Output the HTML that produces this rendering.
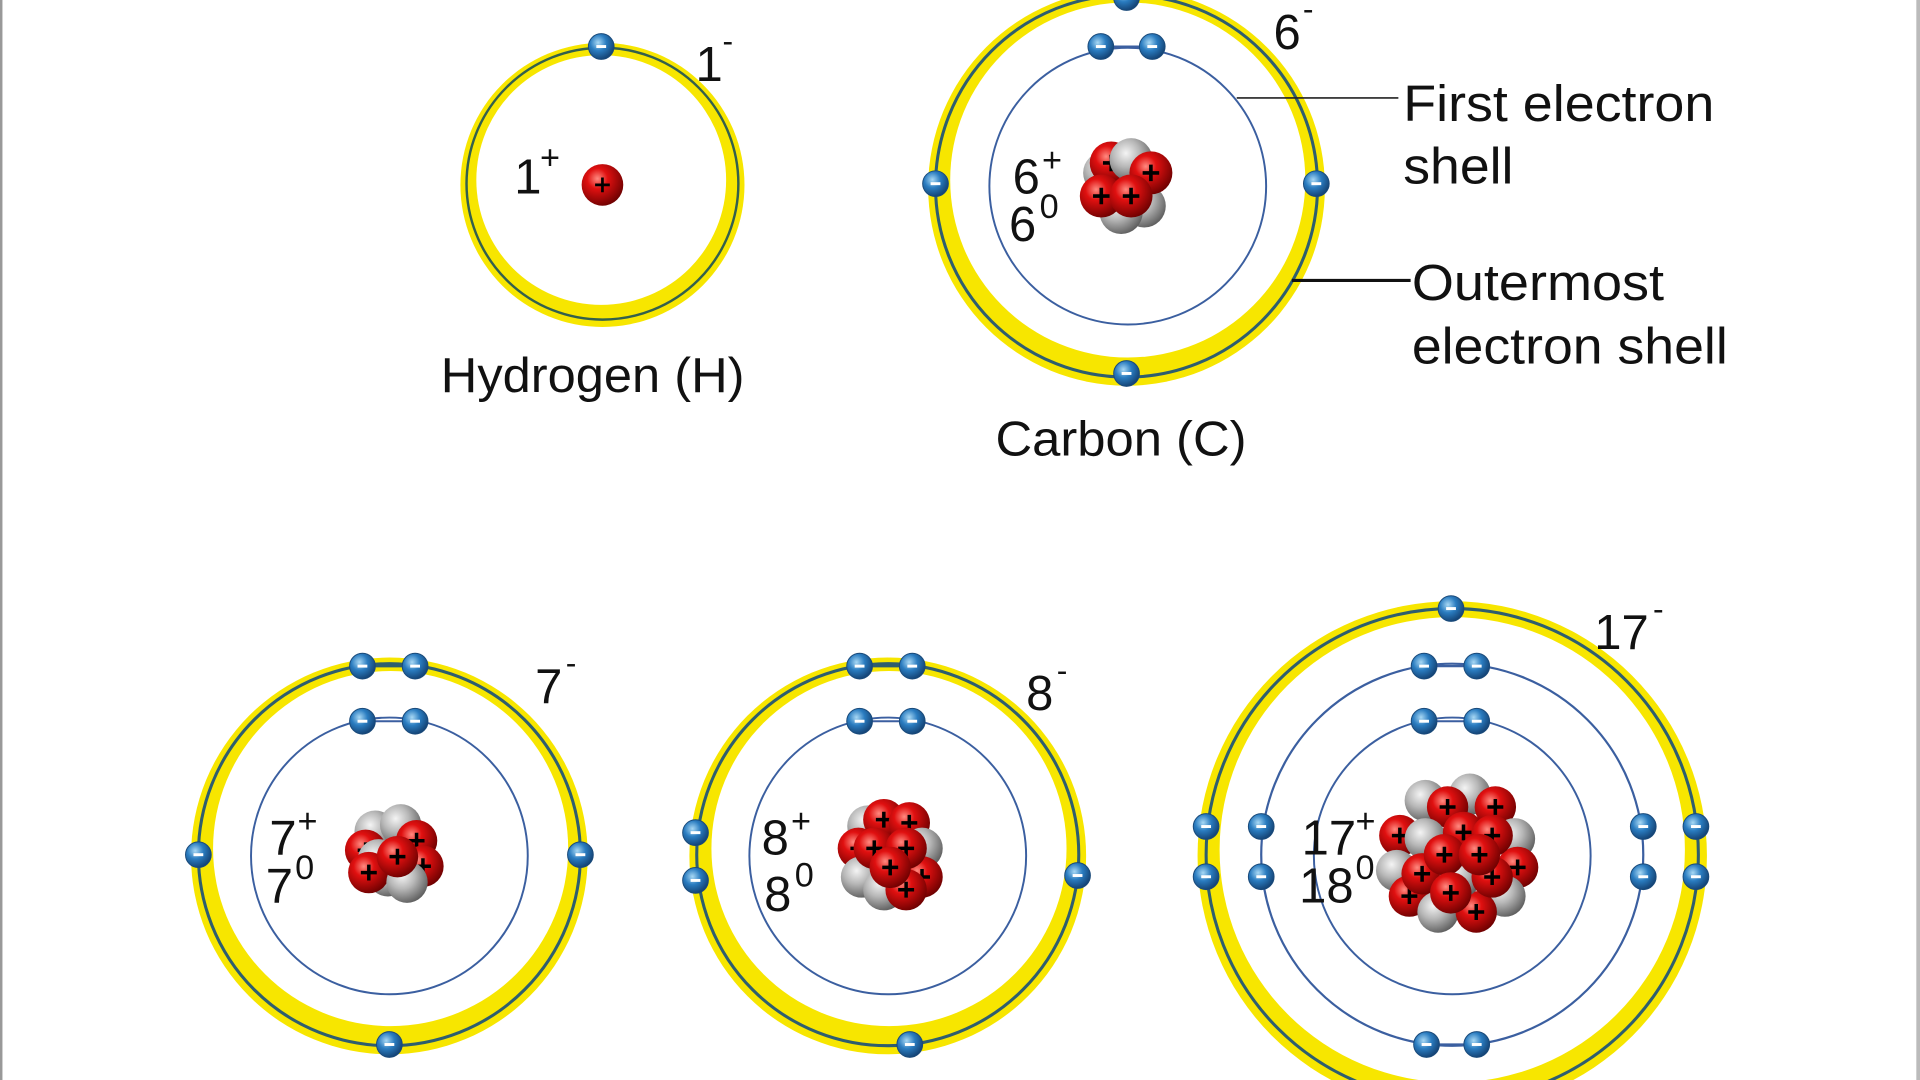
<!DOCTYPE html>
<html><head><meta charset="utf-8"><style>
html,body{margin:0;padding:0;background:#fff;}
svg{display:block;}
text{font-family:"Liberation Sans",sans-serif;fill:#111;}
</style></head><body>
<svg width="1920" height="1080" viewBox="0 0 1568 882" xmlns="http://www.w3.org/2000/svg">
<defs>
<radialGradient id="rg" cx="0.38" cy="0.35" r="0.7"><stop offset="0" stop-color="#ff8a80"/><stop offset="0.35" stop-color="#e01010"/><stop offset="1" stop-color="#6a0000"/></radialGradient>
<radialGradient id="gg" cx="0.38" cy="0.35" r="0.7"><stop offset="0" stop-color="#f4f4f4"/><stop offset="0.45" stop-color="#b8b8b8"/><stop offset="1" stop-color="#5a5a5a"/></radialGradient>
<radialGradient id="bg" cx="0.38" cy="0.35" r="0.7"><stop offset="0" stop-color="#a8d8f4"/><stop offset="0.45" stop-color="#2a7cc0"/><stop offset="1" stop-color="#123e6e"/></radialGradient>
<g id="e"><circle r="10.5" fill="url(#bg)" stroke="#1a4a7a" stroke-width="0.8"/><rect x="-4" y="-1.2" width="8" height="2.4" fill="#fff"/></g>
<g id="p"><circle r="13" fill="url(#rg)"/><path d="M-5 0H5M0 -5V5" stroke="#000" stroke-width="2.2"/></g>
<g id="n"><circle r="13" fill="url(#gg)"/></g>
</defs>
<rect width="1568" height="882" fill="#fff"/>
<rect x="0" y="0" width="2" height="882" fill="#999"/>
<rect x="1565" y="0" width="3" height="882" fill="#bbb"/>

<!-- Hydrogen -->
<circle cx="492" cy="151" r="116" fill="#f7e600"/>
<circle cx="491" cy="147" r="102" fill="#fff"/>
<circle cx="492" cy="150" r="111" fill="none" stroke="#33604c" stroke-width="2"/>
<use href="#e" x="491" y="38"/>
<circle cx="492" cy="151" r="17" fill="url(#rg)"/>
<path d="M486 151H498M492 145V157" stroke="#000" stroke-width="2.2"/>
<text x="420" y="158" font-size="40">1</text><text x="441" y="138" font-size="28">+</text>
<text x="568" y="66" font-size="40">1</text><text x="590" y="42" font-size="26">-</text>
<text x="360" y="320" font-size="40" textLength="248" lengthAdjust="spacingAndGlyphs">Hydrogen (H)</text>

<!-- Carbon -->
<circle cx="920" cy="153" r="162" fill="#f7e600"/>
<circle cx="921" cy="147" r="145" fill="#fff"/>
<circle cx="920" cy="152" r="156" fill="none" stroke="#2e5e6e" stroke-width="2.5"/>
<circle cx="921" cy="152" r="113" fill="none" stroke="#3b5fa0" stroke-width="1.6"/>
<use href="#e" x="920" y="-2"/><use href="#e" x="764" y="150"/><use href="#e" x="1075" y="150"/><use href="#e" x="920" y="305"/>
<line x1="899" y1="38" x2="941" y2="38" stroke="#3b5fa0" stroke-width="1.6"/>
<use href="#e" x="899" y="38"/><use href="#e" x="941" y="38"/>
<g transform="translate(921,152) scale(1.35)">
<use href="#n" x="-14" y="-8"/><use href="#n" x="10" y="12"/><use href="#n" x="-4" y="16"/>
<use href="#p" x="-10" y="-14"/><use href="#n" x="2" y="-16"/><use href="#p" x="14" y="-8"/>
<use href="#p" x="-16" y="6"/><use href="#p" x="2" y="6"/>
</g>
<text x="827" y="158" font-size="40">6</text><text x="851" y="140" font-size="28">+</text>
<text x="824" y="197" font-size="40">6</text><text x="849" y="178" font-size="28">0</text>
<text x="1040" y="40" font-size="40">6</text><text x="1064" y="16" font-size="26">-</text>
<line x1="1010" y1="80" x2="1142" y2="80" stroke="#222" stroke-width="1.3"/>
<line x1="1055" y1="229" x2="1152" y2="229" stroke="#111" stroke-width="2.5"/>
<text x="1146" y="99" font-size="42" textLength="254" lengthAdjust="spacingAndGlyphs">First electron</text>
<text x="1146" y="150" font-size="42" textLength="90" lengthAdjust="spacingAndGlyphs">shell</text>
<text x="1153" y="245" font-size="42" textLength="206" lengthAdjust="spacingAndGlyphs">Outermost</text>
<text x="1153" y="297" font-size="42" textLength="258" lengthAdjust="spacingAndGlyphs">electron shell</text>
<text x="813" y="372" font-size="40" textLength="205" lengthAdjust="spacingAndGlyphs">Carbon (C)</text>

<!-- Nitrogen -->
<circle cx="318" cy="699" r="162" fill="#f7e600"/>
<circle cx="319" cy="693" r="145" fill="#fff"/>
<circle cx="318" cy="698" r="156" fill="none" stroke="#2e5e6e" stroke-width="2.5"/>
<circle cx="318" cy="699" r="113" fill="none" stroke="#3b5fa0" stroke-width="1.6"/>
<line x1="296" y1="544" x2="339" y2="544" stroke="#2e5e6e" stroke-width="2"/>
<use href="#e" x="296" y="544"/><use href="#e" x="339" y="544"/><use href="#e" x="162" y="698"/><use href="#e" x="474" y="698"/><use href="#e" x="318" y="853"/>
<line x1="296" y1="589" x2="339" y2="589" stroke="#3b5fa0" stroke-width="1.6"/>
<use href="#e" x="296" y="589"/><use href="#e" x="339" y="589"/>
<g transform="translate(322,697) scale(1.3)">
<use href="#n" x="-12" y="-14"/><use href="#n" x="4" y="-18"/><use href="#p" x="-18" y="-2"/>
<use href="#n" x="-4" y="14"/><use href="#p" x="14" y="-8"/><use href="#n" x="-10" y="4"/>
<use href="#p" x="18" y="8"/><use href="#p" x="-16" y="12"/><use href="#n" x="8" y="18"/>
<use href="#p" x="2" y="2"/>
</g>
<text x="220" y="698" font-size="40">7</text><text x="243" y="680" font-size="28">+</text>
<text x="217" y="737" font-size="40">7</text><text x="241" y="718" font-size="28">0</text>
<text x="437" y="574" font-size="40">7</text><text x="462" y="550" font-size="26">-</text>

<!-- Oxygen -->
<circle cx="725" cy="699" r="162" fill="#f7e600"/>
<circle cx="726" cy="693" r="145" fill="#fff"/>
<circle cx="725" cy="698" r="156" fill="none" stroke="#2e5e6e" stroke-width="2.5"/>
<circle cx="725" cy="699" r="113" fill="none" stroke="#3b5fa0" stroke-width="1.6"/>
<line x1="702" y1="544" x2="745" y2="544" stroke="#2e5e6e" stroke-width="2"/>
<use href="#e" x="702" y="544"/><use href="#e" x="745" y="544"/><use href="#e" x="568" y="680"/><use href="#e" x="568" y="719"/><use href="#e" x="880" y="715"/><use href="#e" x="743" y="853"/>
<line x1="702" y1="589" x2="745" y2="589" stroke="#3b5fa0" stroke-width="1.6"/>
<use href="#e" x="702" y="589"/><use href="#e" x="745" y="589"/>
<g transform="translate(727,698) scale(1.3)">
<use href="#n" x="-14" y="-18"/><use href="#p" x="-4" y="-22"/><use href="#p" x="12" y="-20"/>
<use href="#n" x="20" y="-4"/><use href="#p" x="-20" y="-4"/><use href="#n" x="-18" y="14"/>
<use href="#p" x="20" y="14"/><use href="#n" x="-4" y="22"/><use href="#p" x="10" y="22"/>
<use href="#p" x="-10" y="-4"/><use href="#p" x="10" y="-4"/><use href="#p" x="0" y="8"/>
</g>
<text x="622" y="698" font-size="40">8</text><text x="646" y="680" font-size="28">+</text>
<text x="624" y="744" font-size="40">8</text><text x="649" y="724" font-size="28">0</text>
<text x="838" y="580" font-size="40">8</text><text x="863" y="556" font-size="26">-</text>

<!-- Chlorine -->
<circle cx="1186" cy="699" r="208" fill="#f7e600"/>
<circle cx="1186" cy="694" r="190" fill="#fff"/>
<circle cx="1186" cy="698" r="201" fill="none" stroke="#2e5e6e" stroke-width="2.5"/>
<circle cx="1186" cy="698" r="156" fill="none" stroke="#3b5fa0" stroke-width="1.8"/>
<circle cx="1186" cy="699" r="113" fill="none" stroke="#3b5fa0" stroke-width="1.6"/>
<use href="#e" x="1185" y="497"/>
<use href="#e" x="985" y="675"/><use href="#e" x="985" y="716"/><use href="#e" x="1385" y="675"/><use href="#e" x="1385" y="716"/>
<line x1="1163" y1="544" x2="1206" y2="544" stroke="#3b5fa0" stroke-width="1.8"/>
<use href="#e" x="1163" y="544"/><use href="#e" x="1206" y="544"/>
<use href="#e" x="1030" y="675"/><use href="#e" x="1030" y="716"/><use href="#e" x="1342" y="675"/><use href="#e" x="1342" y="716"/>
<line x1="1165" y1="853" x2="1206" y2="853" stroke="#3b5fa0" stroke-width="1.8"/>
<use href="#e" x="1165" y="853"/><use href="#e" x="1206" y="853"/>
<line x1="1163" y1="589" x2="1206" y2="589" stroke="#3b5fa0" stroke-width="1.6"/>
<use href="#e" x="1163" y="589"/><use href="#e" x="1206" y="589"/>
<g transform="translate(1190,698) scale(1.3)">
<use href="#n" x="-20" y="-34"/><use href="#n" x="8" y="-38"/><use href="#p" x="-6" y="-30"/><use href="#p" x="24" y="-30"/>
<use href="#p" x="-36" y="-12"/><use href="#n" x="36" y="-10"/><use href="#n" x="-38" y="10"/><use href="#p" x="38" y="8"/>
<use href="#p" x="-30" y="26"/><use href="#n" x="30" y="26"/><use href="#n" x="-12" y="36"/><use href="#p" x="12" y="36"/>
<use href="#n" x="-20" y="-10"/><use href="#p" x="4" y="-14"/><use href="#p" x="22" y="-12"/>
<use href="#p" x="-22" y="12"/><use href="#n" x="2" y="14"/><use href="#p" x="22" y="14"/>
<use href="#p" x="-8" y="0"/><use href="#p" x="14" y="0"/><use href="#p" x="-4" y="24"/>
</g>
<text x="1063" y="698" font-size="40">17</text><text x="1107" y="680" font-size="28">+</text>
<text x="1061" y="737" font-size="40">18</text><text x="1107" y="718" font-size="28">0</text>
<text x="1302" y="530" font-size="40">17</text><text x="1350" y="506" font-size="26">-</text>
</svg>
</body></html>
